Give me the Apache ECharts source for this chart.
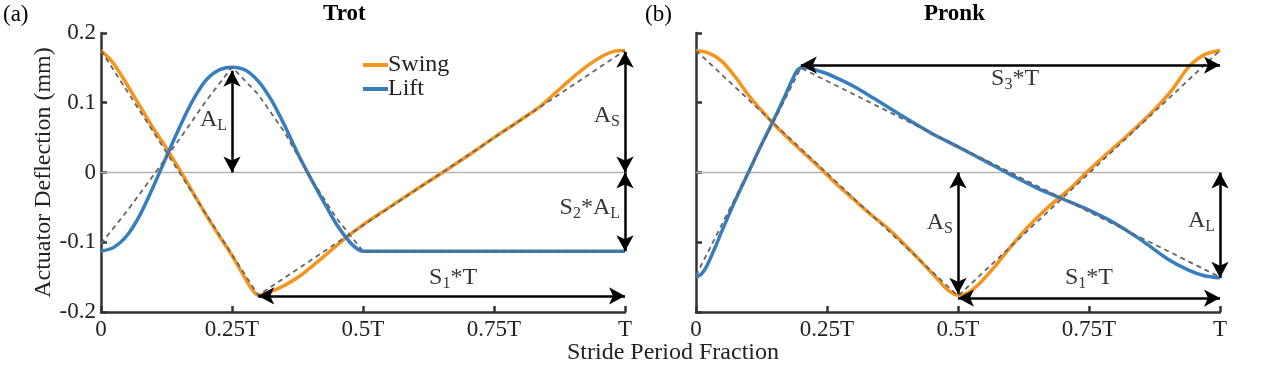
<!DOCTYPE html>
<html>
<head>
<meta charset="utf-8">
<title>Trot / Pronk actuator deflection</title>
<script src="https://cdn.jsdelivr.net/npm/echarts@6/dist/echarts.min.js"></script>
<style>
  html, body { margin: 0; padding: 0; background: #fff; }
  #main { width: 1275px; height: 382px; }
</style>
</head>
<body>
<div id="main"></div>
<script>
// tick labels
var xTickLabels = ['0', '0.25T', '0.5T', '0.75T', 'T'];
var yTickLabels = ['-0.2', '-0.1', '0', '0.1', '0.2'];

// (a) Trot
var trotSwingX = [0, 0.02, 0.04, 0.06, 0.08, 0.1, 0.125, 0.15, 0.175, 0.2, 0.225, 0.25, 0.27, 0.285, 0.3, 0.32, 0.35, 0.38, 0.41, 0.44, 0.47, 0.5, 0.55, 0.6, 0.65, 0.7, 0.75, 0.8, 0.84, 0.87, 0.9, 0.93, 0.96, 0.98, 1];
var trotSwingY = [0.175, 0.160, 0.138, 0.113, 0.088, 0.063, 0.035, 0.004, -0.028, -0.060, -0.090, -0.119, -0.145, -0.164, -0.176, -0.172, -0.162, -0.148, -0.130, -0.111, -0.092, -0.075, -0.050, -0.025, -0.001, 0.024, 0.050, 0.075, 0.096, 0.116, 0.136, 0.154, 0.168, 0.174, 0.175];
var trotLiftX = [0, 0.025, 0.05, 0.075, 0.1, 0.125, 0.15, 0.175, 0.2, 0.225, 0.25, 0.275, 0.3, 0.325, 0.35, 0.375, 0.4, 0.425, 0.45, 0.475, 0.49, 0.5, 0.52, 0.75, 1];
var trotLiftY = [-0.113, -0.107, -0.090, -0.060, -0.020, 0.023, 0.065, 0.103, 0.132, 0.147, 0.151, 0.147, 0.131, 0.104, 0.068, 0.028, -0.008, -0.042, -0.075, -0.100, -0.110, -0.113, -0.113, -0.113, -0.113];
var trotSwingRefX = [0, 0.3, 1];
var trotSwingRefY = [0.175, -0.176, 0.175];
var trotLiftRefX = [0, 0.05, 0.1, 0.15, 0.2, 0.25, 0.3, 0.35, 0.4, 0.45, 0.5, 1];
var trotLiftRefY = [-0.102, -0.055, -0.004, 0.048, 0.102, 0.151, 0.112, 0.058, -0.008, -0.066, -0.113, -0.113];

// (b) Pronk
var pronkSwingX = [0, 0.025, 0.05, 0.075, 0.1, 0.125, 0.15, 0.18, 0.21, 0.24, 0.27, 0.3, 0.33, 0.36, 0.39, 0.42, 0.44, 0.46, 0.48, 0.5, 0.52, 0.54, 0.57, 0.6, 0.63, 0.66, 0.69, 0.72, 0.745, 0.78, 0.82, 0.86, 0.88, 0.91, 0.94, 0.97, 1];
var pronkSwingY = [0.175, 0.171, 0.159, 0.137, 0.111, 0.089, 0.068, 0.046, 0.025, 0.004, -0.018, -0.038, -0.058, -0.076, -0.097, -0.120, -0.136, -0.152, -0.168, -0.176, -0.172, -0.160, -0.135, -0.107, -0.081, -0.058, -0.038, -0.019, 0.000, 0.024, 0.051, 0.079, 0.094, 0.120, 0.151, 0.169, 0.175];
var pronkLiftX = [0, 0.01, 0.02, 0.035, 0.05, 0.075, 0.1, 0.125, 0.15, 0.17, 0.185, 0.195, 0.205, 0.22, 0.245, 0.27, 0.3, 0.34, 0.4, 0.45, 0.5, 0.55, 0.6, 0.65, 0.7, 0.75, 0.8, 0.85, 0.9, 0.94, 0.97, 1];
var pronkLiftY = [-0.150, -0.146, -0.135, -0.110, -0.083, -0.040, 0.000, 0.040, 0.078, 0.110, 0.135, 0.148, 0.151, 0.149, 0.143, 0.135, 0.124, 0.106, 0.078, 0.056, 0.037, 0.017, -0.003, -0.022, -0.038, -0.054, -0.073, -0.097, -0.124, -0.140, -0.148, -0.151];
var pronkSwingRefX = [0, 0.5, 1];
var pronkSwingRefY = [0.175, -0.177, 0.175];
var pronkLiftRefX = [0, 0.2, 1];
var pronkLiftRefY = [-0.148, 0.150, -0.150];

// double arrows [x1, y1, x2, y2] in data units
var trotArrows = [[0.25, 0.146, 0.25, 0.0], [1, 0.173, 1, 0.0], [1, 0.0, 1, -0.113], [0.3, -0.177, 1, -0.177]];
var pronkArrows = [[0.2, 0.154, 1, 0.154], [0.5, 0.0, 0.5, -0.174], [1, 0.0, 1, -0.151], [0.5, -0.18, 1, -0.18]];
// annotation texts: x, y, text, side
var trotNotes = [[0.25, 0.076, '{m|A}{s|L}', 'left'], [1, 0.082, '{m|A}{s|S}', 'left'], [1, -0.05, '{m|S}{s|2}{m|*A}{s|L}', 'left'], [0.672, -0.151, '{m|S}{s|1}{m|*T}', 'inside']];
var pronkNotes = [[0.609, 0.135, '{m|S}{s|3}{m|*T}', 'inside'], [0.5, -0.072, '{m|A}{s|S}', 'left'], [1, -0.069, '{m|A}{s|L}', 'left'], [0.75, -0.151, '{m|S}{s|1}{m|*T}', 'inside']];

var FONT = 'Liberation Serif';
var ORANGE = '#F7941E';
var BLUE = '#377EBF';

function pairs(xs, ys) {
    return xs.map(function (x, i) { return [x, ys[i]]; });
}

function curve(name, xs, ys, color, g) {
    return {
        name: name, type: 'line', xAxisIndex: g, yAxisIndex: g,
        data: pairs(xs, ys), showSymbol: false, symbol: 'none', smooth: 0.3,
        lineStyle: { color: color, width: 3.5 }, itemStyle: { color: color }, z: 3
    };
}

function refLine(xs, ys, g) {
    return {
        name: 'ref', type: 'line', xAxisIndex: g, yAxisIndex: g,
        data: pairs(xs, ys), showSymbol: false, symbol: 'none',
        lineStyle: { color: '#666', width: 1.8, type: [5, 4] }, z: 4
    };
}

function notes(list, arrows, g) {
    return {
        type: 'scatter', xAxisIndex: g, yAxisIndex: g, symbolSize: 0, z: 6, silent: true,
        data: list.map(function (n) {
            return {
                value: [n[0], n[1]],
                label: {
                    show: true, position: n[3], distance: n[3] === 'left' ? 5 : 0,
                    formatter: n[2],
                    rich: {
                        m: { fontFamily: FONT, fontSize: 24, color: '#000' },
                        s: { fontFamily: FONT, fontSize: 16, color: '#000', padding: [12, 0, 0, 0] }
                    }
                }
            };
        }),
        markLine: {
            silent: true, animation: false,
            symbol: ['arrow', 'arrow'], symbolSize: [13, 16],
            lineStyle: { color: '#000', width: 2.5, type: 'solid' },
            label: { show: false },
            data: arrows.map(function (a) {
                return [{ coord: [a[0], a[1]] }, { coord: [a[2], a[3]] }];
            })
        }
    };
}

function zeroLine(g) {
    return {
        type: 'line', xAxisIndex: g, yAxisIndex: g, data: [[0, 0], [1, 0]],
        symbol: 'none', silent: true, lineStyle: { color: '#b3b3b3', width: 1.5 }, z: 1
    };
}

function xAxis(g) {
    return {
        type: 'value', gridIndex: g, min: 0, max: 1, interval: 0.25,
        axisLine: { onZero: false, lineStyle: { color: '#333', width: 2.5 } },
        axisTick: { inside: true, length: 6, lineStyle: { color: '#333', width: 2.5 } },
        axisLabel: {
            margin: 6, color: '#222', fontFamily: FONT, fontSize: 23,
            formatter: function (v) { return xTickLabels[Math.round(v / 0.25)]; }
        },
        splitLine: { show: false }
    };
}

function yAxis(g, labels) {
    return {
        type: 'value', gridIndex: g, min: -0.2, max: 0.2, interval: 0.1,
        name: labels ? 'Actuator Deflection (mm)' : '',
        nameLocation: 'middle', nameGap: 43,
        nameTextStyle: { fontFamily: FONT, fontSize: 24, color: '#222' },
        axisLine: { show: true, onZero: false, lineStyle: { color: '#333', width: 2.5 } },
        axisTick: { show: true, inside: true, length: 6, lineStyle: { color: '#333', width: 2.5 } },
        axisLabel: {
            show: labels, margin: 5, color: '#222', fontFamily: FONT, fontSize: 23,
            formatter: function (v) { return yTickLabels[Math.round(v / 0.1) + 2]; }
        },
        splitLine: { show: false }
    };
}

var myChart = echarts.init(document.getElementById('main'));
var option = {
    animation: false,
    backgroundColor: '#fff',
    grid: [
        { left: 101, width: 524, top: 33, height: 279 },
        { left: 696, width: 524, top: 33, height: 279 }
    ],
    xAxis: [xAxis(0), xAxis(1)],
    yAxis: [yAxis(0, true), yAxis(1, false)],
    legend: {
        data: [{ name: 'Swing', icon: 'rect' }, { name: 'Lift', icon: 'rect' }],
        orient: 'vertical', left: 363, top: 53,
        itemWidth: 25, itemHeight: 4, itemGap: 0, padding: 0,
        textStyle: { fontFamily: FONT, fontSize: 24, color: '#222', lineHeight: 23, padding: [0, 0, 0, -5] }
    },
    graphic: [
        { type: 'text', left: 3, top: 3, style: { text: '(a)', font: '23px "Liberation Serif"', fill: '#000' } },
        { type: 'text', left: 645, top: 3, style: { text: '(b)', font: '23px "Liberation Serif"', fill: '#000' } },
        { type: 'text', left: 323, top: 3, style: { text: 'Trot', font: 'bold 23px "Liberation Serif"', fill: '#000' } },
        { type: 'text', left: 924, top: 3, style: { text: 'Pronk', font: 'bold 23px "Liberation Serif"', fill: '#000' } },
        { type: 'text', left: 567, top: 341, style: { text: 'Stride Period Fraction', font: '24px "Liberation Serif"', fill: '#222' } }
    ],
    series: [
        zeroLine(0), zeroLine(1),
        curve('Swing', trotSwingX, trotSwingY, ORANGE, 0),
        curve('Lift', trotLiftX, trotLiftY, BLUE, 0),
        refLine(trotSwingRefX, trotSwingRefY, 0),
        refLine(trotLiftRefX, trotLiftRefY, 0),
        curve('Swing', pronkSwingX, pronkSwingY, ORANGE, 1),
        curve('Lift', pronkLiftX, pronkLiftY, BLUE, 1),
        refLine(pronkSwingRefX, pronkSwingRefY, 1),
        refLine(pronkLiftRefX, pronkLiftRefY, 1),
        notes(trotNotes, trotArrows, 0),
        notes(pronkNotes, pronkArrows, 1)
    ]
};
myChart.setOption(option);
</script>
</body>
</html>
